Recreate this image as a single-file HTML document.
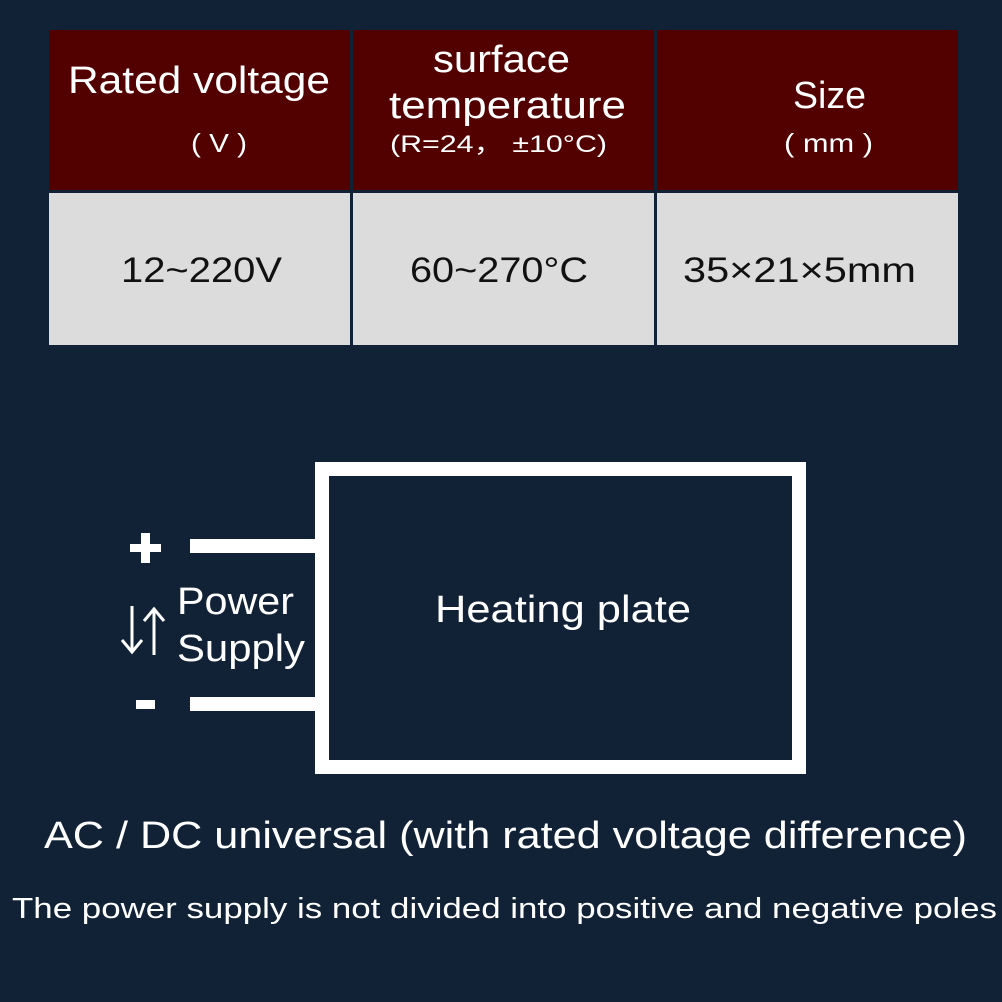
<!DOCTYPE html>
<html><head><meta charset="utf-8"><style>
html,body{margin:0;padding:0;background:#122236;}
svg{display:block}
text{font-family:"Liberation Sans","DejaVu Sans",sans-serif;}
</style></head><body>
<svg width="1002" height="1002" viewBox="0 0 1002 1002" xmlns="http://www.w3.org/2000/svg">
<rect width="1002" height="1002" fill="#122236"/>
<rect x="49" y="30" width="301" height="160" fill="#520000"/>
<rect x="353" y="30" width="301" height="160" fill="#520000"/>
<rect x="657" y="30" width="301" height="160" fill="#520000"/>
<rect x="49" y="193" width="301" height="152" fill="#dcdcdc"/>
<rect x="353" y="193" width="301" height="152" fill="#dcdcdc"/>
<rect x="657" y="193" width="301" height="152" fill="#dcdcdc"/>
<g fill="#fff">
<text x="68" y="93" font-size="38" textLength="262" lengthAdjust="spacingAndGlyphs">Rated voltage</text>
<text x="191" y="152" font-size="26" textLength="56" lengthAdjust="spacingAndGlyphs">( V )</text>
<text x="433" y="72" font-size="38" textLength="137" lengthAdjust="spacingAndGlyphs">surface</text>
<text x="389" y="118" font-size="38" textLength="237" lengthAdjust="spacingAndGlyphs">temperature</text>
<text x="390" y="152" font-size="24" textLength="217" lengthAdjust="spacingAndGlyphs">(R=24， ±10°C)</text>
<text x="793" y="108" font-size="38" textLength="73" lengthAdjust="spacingAndGlyphs">Size</text>
<text x="784" y="152" font-size="26" textLength="89" lengthAdjust="spacingAndGlyphs">( mm )</text>
</g>
<g fill="#111">
<text x="121" y="282" font-size="35" textLength="161" lengthAdjust="spacingAndGlyphs">12~220V</text>
<text x="410" y="282" font-size="35" textLength="178" lengthAdjust="spacingAndGlyphs">60~270°C</text>
<text x="683" y="282" font-size="35" textLength="233" lengthAdjust="spacingAndGlyphs">35×21×5mm</text>
</g>
<rect x="322" y="469" width="477" height="298" fill="none" stroke="#fff" stroke-width="14"/>
<rect x="190" y="539" width="128" height="14" fill="#fff"/>
<rect x="190" y="697" width="128" height="14" fill="#fff"/>
<rect x="130" y="544" width="31" height="8" fill="#fff"/>
<rect x="141" y="533" width="9" height="30" fill="#fff"/>
<rect x="136" y="700" width="19" height="9" fill="#fff"/>
<g fill="#fff">
<text x="435" y="622" font-size="38" textLength="256" lengthAdjust="spacingAndGlyphs">Heating plate</text>
<text x="177" y="614" font-size="38" textLength="117" lengthAdjust="spacingAndGlyphs">Power</text>
<text x="177" y="661" font-size="38" textLength="128" lengthAdjust="spacingAndGlyphs">Supply</text>
<text x="44" y="848" font-size="38" textLength="923" lengthAdjust="spacingAndGlyphs">AC / DC universal (with rated voltage difference)</text>
<text x="12" y="918" font-size="29" textLength="985" lengthAdjust="spacingAndGlyphs">The power supply is not divided into positive and negative poles</text>
</g>
<g stroke="#fff" stroke-width="3" fill="none">
<line x1="132" y1="606" x2="132" y2="651"/>
<polyline points="122,640 132,652 142,640"/>
<line x1="154" y1="610" x2="154" y2="655"/>
<polyline points="144,621 154,609 164,621"/>
</g>
</svg>
</body></html>
